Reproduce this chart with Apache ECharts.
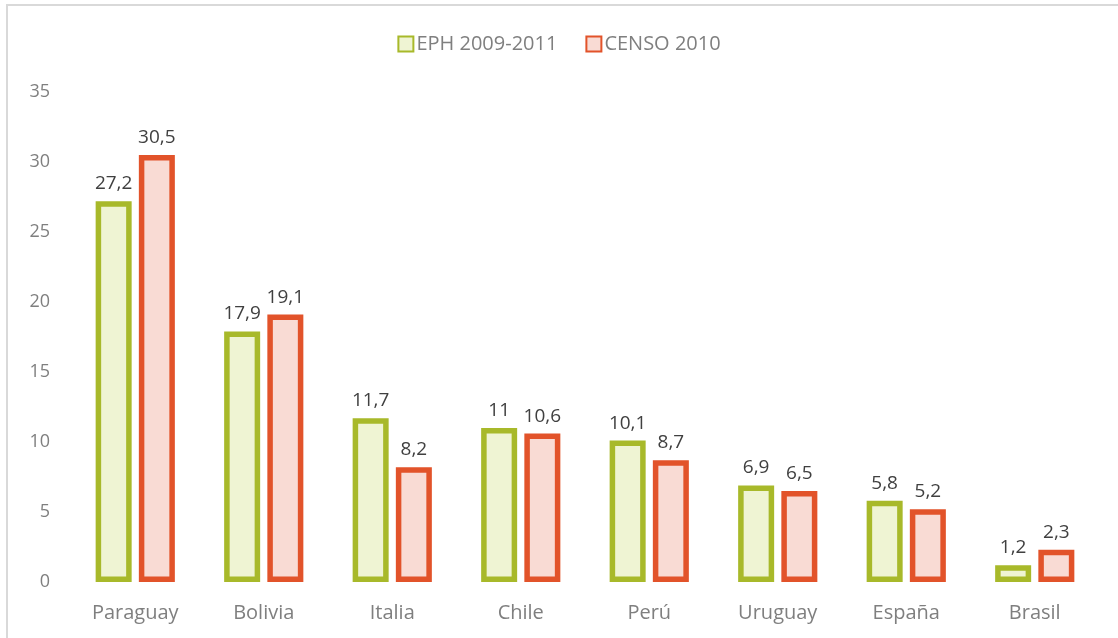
<!DOCTYPE html>
<html>
<head>
<meta charset="utf-8">
<script src="https://cdn.jsdelivr.net/npm/echarts@6/dist/echarts.min.js"></script>
<style>
  html, body { margin: 0; padding: 0; background: #fff; }
  #chart { width: 1118px; height: 638px; }
</style>
</head>
<body>
<div id="chart"></div>
<script>
var categories = ['Paraguay', 'Bolivia', 'Italia', 'Chile', 'Perú', 'Uruguay', 'España', 'Brasil'];
var ephValues = [27.2, 17.9, 11.7, 11, 10.1, 6.9, 5.8, 1.2];
var censoValues = [30.5, 19.1, 8.2, 10.6, 8.7, 6.5, 5.2, 2.3];
var seriesNames = ['EPH 2009-2011', 'CENSO 2010'];

var fontFamily = '"Open Sans", "Noto Sans", sans-serif';

function commaLabel(p) {
    return String(p.value).replace('.', ',');
}

function makeSeries(name, values, border, fill) {
    return {
        name: name,
        type: 'bar',
        data: values,
        barWidth: 36,
        barGap: '20%',
        itemStyle: {color: fill, borderColor: border, borderWidth: 5.5},
        label: {
            show: true,
            position: 'top',
            distance: 8,
            formatter: commaLabel,
            color: '#404040',
            fontSize: 19,
            fontFamily: fontFamily
        }
    };
}

var chart = echarts.init(document.getElementById('chart'));
chart.setOption({
    animation: false,
    backgroundColor: '#fff',
    graphic: [{
        type: 'rect',
        shape: {x: 7, y: 5, width: 1300, height: 800},
        style: {fill: 'none', stroke: '#d9d9d9', lineWidth: 2},
        silent: true
    }],
    legend: {
        top: 29,
        left: 'center',
        icon: 'rect',
        itemWidth: 15,
        itemHeight: 15,
        itemGap: 28,
        textStyle: {color: '#7f7f7f', fontSize: 20, fontFamily: fontFamily, padding: [0, 0, 0, -2]}
    },
    grid: {left: 71, right: 19, top: 92, bottom: 56, containLabel: false},
    xAxis: {
        type: 'category',
        data: categories,
        axisLine: {show: false},
        axisTick: {show: false},
        axisLabel: {color: '#7f7f7f', fontSize: 20, margin: 21, fontFamily: fontFamily}
    },
    yAxis: {
        type: 'value',
        min: 0,
        max: 35,
        interval: 5,
        splitLine: {show: false},
        axisLine: {show: false},
        axisTick: {show: false},
        axisLabel: {color: '#7f7f7f', fontSize: 18, margin: 21, align: 'right', verticalAlign: 'middle', padding: [14, 0, 0, 0], fontFamily: fontFamily}
    },
    series: [
        makeSeries(seriesNames[0], ephValues, '#a8b92a', '#eff4d3'),
        makeSeries(seriesNames[1], censoValues, '#e2532a', '#f9dbd4')
    ]
});
</script>
</body>
</html>
